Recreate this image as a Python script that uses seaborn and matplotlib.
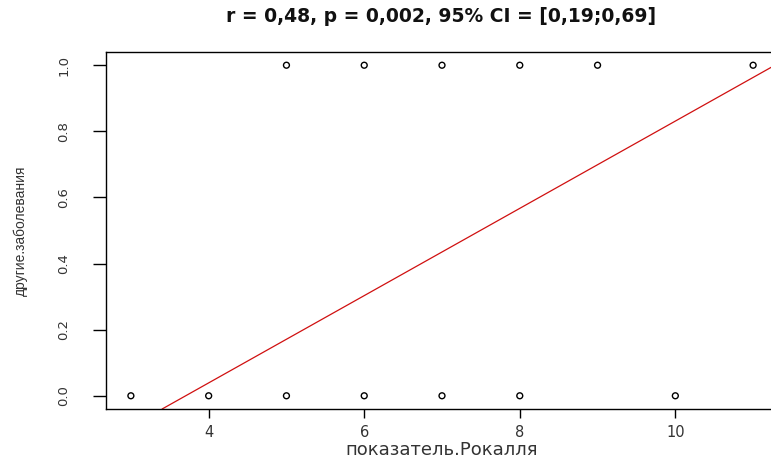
import matplotlib
matplotlib.use("Agg")
import matplotlib.pyplot as plt
import seaborn as sns
import pandas as pd
import numpy as np

# data
x_group0 = [3, 4, 5, 6, 7, 8, 10]
x_group1 = [5, 6, 7, 8, 9, 11]
y_group0 = [0, 0, 0, 0, 0, 0, 0]
y_group1 = [1, 1, 1, 1, 1, 1]
fit_intercept = -0.489
fit_slope = 0.132
x_ticks = [4, 6, 8, 10]
y_ticks = [0.0, 0.2, 0.4, 0.6, 0.8, 1.0]
title = "r = 0,48, p = 0,002, 95% CI = [0,19;0,69]"
xlabel = "показатель.Рокалля"
ylabel = "другие.заболевания"

df = pd.DataFrame({"x": x_group0 + x_group1, "y": y_group0 + y_group1})

sns.set_style("white")
plt.rcParams['font.family'] = ['DejaVu Sans']

W, H = 771, 468
fig = plt.figure(figsize=(W/100, H/100), dpi=100)
ax = fig.add_axes([106/W, (H-409)/H, (778-106)/W, (409-52)/H])

sns.scatterplot(data=df, x="x", y="y", ax=ax, marker="o", s=18,
                facecolor="none", edgecolor="black", linewidth=1.0, zorder=3)
ax.axline((0, fit_intercept), slope=fit_slope, color="#d01010", lw=0.9, zorder=2)

ax.set_xlim(2.68, 11.32)
ax.set_ylim(-0.04, 1.04)
ax.set_xticks(x_ticks)
ax.set_xticklabels([str(v) for v in x_ticks], fontsize=10.5, color="#333333")
ax.set_yticks(y_ticks)
ax.set_yticklabels([f"{v:.1f}" for v in y_ticks], fontsize=9.5, rotation=90,
                   va="center", color="#333333")
ax.tick_params(axis="x", direction="out", length=6.5, width=1, color="black",
               bottom=True, pad=5)
ax.tick_params(axis="y", direction="out", length=9.5, width=1, color="black",
               left=True, pad=16)
for sp in ax.spines.values():
    sp.set_visible(True)
    sp.set_color("black")
    sp.set_linewidth(1.0)

ax.set_xlabel(xlabel, fontsize=13, color="#333333", va="center")
ax.xaxis.set_label_coords(0.5, (409-450)/357)
ax.set_ylabel(ylabel, fontsize=10, color="#333333", va="center",
              family=['Liberation Sans', 'DejaVu Sans'])
ax.yaxis.set_label_coords((21-106)/672, 0.5)
fig.text(441/W, 1 - 16.5/H, title, ha="center", va="center",
         fontsize=13.5, fontweight="bold", color="#111111")

fig.savefig("out.png", dpi=100)
